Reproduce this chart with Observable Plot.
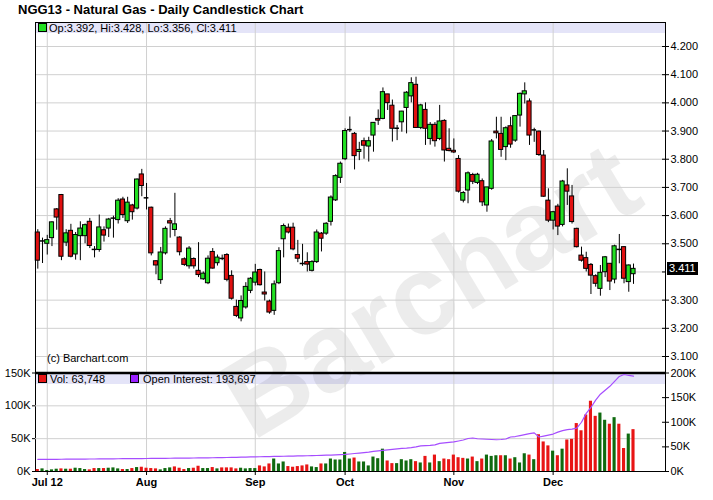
<!DOCTYPE html>
<html><head><meta charset="utf-8">
<script src="https://cdn.jsdelivr.net/npm/d3@7"></script>
<script src="https://cdn.jsdelivr.net/npm/@observablehq/plot@0.6"></script>
<style>
body{margin:0;background:#fff;}
#wrap{position:relative;width:713px;height:500px;overflow:hidden;font-family:"Liberation Sans",Arial,sans-serif;color:#000;}
#wrap svg{position:absolute;left:0;top:0;}
.abs{position:absolute;white-space:nowrap;}
.band{position:absolute;background:#e4e4f8;}
.sq{position:absolute;width:7px;height:7px;border:1px solid #000;}
.leg{position:absolute;font-size:11px;line-height:12px;}
</style></head><body>
<div id="wrap">
  <div class="abs" style="left:18px;top:2px;font-size:13px;font-weight:bold;">NGG13 - Natural Gas - Daily Candlestick Chart</div>
  <div class="band" style="left:35px;top:22px;width:630px;height:11px;"></div>
  <div class="band" style="left:35px;top:373px;width:630px;height:11px;"></div>
  <div class="abs" style="left:430px;top:290px;font-size:112px;font-weight:bold;color:rgba(0,0,0,0.075);transform:translate(-50%,-50%) rotate(-31deg);">Barchart</div>
</div>
<script>
// ---- data ----
const monthTicks = [2, 23, 46, 65, 88, 109];
const monthLabels = ["Jul 12", "Aug", "Sep", "Oct", "Nov", "Dec"];
const priceTicks = [3.1, 3.2, 3.3, 3.4, 3.5, 3.6, 3.7, 3.8, 3.9, 4.0, 4.1, 4.2];
const volTicks = [0, 50000, 100000, 150000];
const oiTicks = [0, 50000, 100000, 150000, 200000];

const open = [3.54,3.51,3.50,3.52,3.622,3.673,3.504,3.546,3.462,3.527,3.527,3.578,3.48,3.478,3.548,3.554,3.591,3.584,3.657,3.58,3.636,3.625,3.746,3.663,3.628,3.438,3.371,3.466,3.58,3.549,3.522,3.445,3.42,3.446,3.404,3.374,3.36,3.471,3.431,3.448,3.46,3.386,3.276,3.235,3.274,3.333,3.362,3.407,3.327,3.295,3.262,3.36,3.516,3.557,3.557,3.46,3.43,3.435,3.404,3.435,3.536,3.536,3.578,3.654,3.734,3.80,3.905,3.89,3.826,3.864,3.845,3.884,3.943,3.943,4.03,3.99,3.91,3.931,3.982,4.023,4.064,3.911,3.975,3.872,3.922,3.872,3.936,3.837,3.83,3.801,3.653,3.689,3.744,3.716,3.722,3.636,3.695,3.898,3.89,3.843,3.917,3.866,3.955,4.03,4.005,3.904,3.898,3.813,3.653,3.582,3.632,3.567,3.707,3.668,3.553,3.458,3.449,3.425,3.385,3.34,3.399,3.429,3.373,3.48,3.488,3.364,3.392];
const high = [3.55,3.52,3.53,3.578,3.625,3.675,3.55,3.569,3.54,3.578,3.57,3.59,3.49,3.602,3.56,3.59,3.598,3.66,3.665,3.665,3.64,3.73,3.764,3.714,3.63,3.44,3.487,3.56,3.59,3.679,3.525,3.45,3.49,3.45,3.504,3.40,3.457,3.483,3.46,3.46,3.465,3.404,3.30,3.315,3.362,3.38,3.427,3.41,3.40,3.30,3.368,3.486,3.57,3.57,3.573,3.512,3.498,3.468,3.44,3.549,3.54,3.575,3.67,3.745,3.79,3.908,3.95,3.895,3.86,3.875,3.878,3.93,3.975,4.053,4.03,4.01,3.92,3.97,4.04,4.089,4.091,3.995,4.0,3.93,3.93,3.991,3.94,3.908,3.872,3.813,3.685,3.755,3.75,3.75,3.73,3.70,3.87,3.949,3.949,3.915,3.949,3.955,4.035,4.071,4.014,3.91,3.90,3.831,3.695,3.615,3.64,3.725,3.766,3.707,3.555,3.488,3.47,3.43,3.39,3.423,3.455,3.43,3.495,3.533,3.49,3.425,3.428];
const low = [3.41,3.43,3.46,3.49,3.548,3.44,3.49,3.45,3.442,3.44,3.50,3.483,3.45,3.47,3.506,3.522,3.52,3.57,3.59,3.572,3.584,3.62,3.667,3.62,3.457,3.39,3.356,3.46,3.52,3.525,3.457,3.42,3.41,3.41,3.38,3.37,3.355,3.41,3.421,3.44,3.365,3.30,3.238,3.223,3.268,3.323,3.35,3.35,3.297,3.25,3.246,3.355,3.45,3.535,3.475,3.433,3.42,3.40,3.40,3.43,3.471,3.53,3.563,3.65,3.714,3.795,3.895,3.762,3.795,3.80,3.79,3.825,3.92,3.94,3.973,3.861,3.866,3.896,3.89,4.0,3.91,3.905,3.849,3.85,3.843,3.866,3.79,3.826,3.82,3.68,3.645,3.642,3.71,3.71,3.632,3.612,3.69,3.872,3.807,3.795,3.839,3.86,3.914,3.996,3.849,3.86,3.81,3.665,3.575,3.549,3.529,3.56,3.636,3.57,3.485,3.435,3.40,3.32,3.346,3.314,3.38,3.334,3.358,3.429,3.358,3.328,3.356];
const close = [3.44,3.51,3.513,3.576,3.593,3.454,3.537,3.454,3.531,3.554,3.566,3.492,3.48,3.558,3.529,3.586,3.591,3.653,3.602,3.646,3.612,3.728,3.705,3.663,3.466,3.423,3.469,3.553,3.572,3.569,3.47,3.425,3.483,3.42,3.389,3.394,3.447,3.412,3.451,3.448,3.372,3.305,3.244,3.297,3.347,3.376,3.398,3.353,3.32,3.256,3.356,3.474,3.563,3.54,3.48,3.447,3.43,3.426,3.435,3.54,3.518,3.571,3.664,3.74,3.784,3.90,3.905,3.811,3.833,3.848,3.864,3.929,3.937,4.038,3.999,3.908,3.91,3.969,4.036,4.07,3.911,3.991,3.908,3.922,3.864,3.934,3.831,3.829,3.824,3.685,3.68,3.75,3.72,3.745,3.647,3.70,3.863,3.892,3.833,3.91,3.852,3.953,4.032,4.041,3.884,3.904,3.815,3.667,3.582,3.612,3.561,3.721,3.685,3.577,3.488,3.44,3.411,3.387,3.358,3.397,3.452,3.366,3.491,3.48,3.376,3.423,3.411];
const volume = [3000,4000,1500,2500,3500,4000,3500,3500,5000,4500,3000,2500,4500,4500,4500,5000,5500,4000,3000,3000,4500,6000,6500,5000,4500,4000,2500,4500,5500,7000,5000,3000,4500,5000,8000,4500,4500,6000,4000,5500,5500,5500,4000,5000,4000,4500,4500,8500,7000,11500,19000,11500,14500,7500,6500,7500,8500,10000,7000,6000,11500,11500,19000,17500,17500,29000,19000,20500,14500,14500,8500,22000,19500,34000,16000,12000,12000,18000,16000,18000,15000,13000,23000,13000,25000,15000,19000,18000,25000,21000,20000,19000,22000,15000,19000,25000,23000,24000,24000,24000,19000,21000,13000,27000,25000,18000,56000,45000,39000,31000,24000,34000,48000,49000,73000,62000,86000,107000,84000,89000,78000,72000,82000,72000,35000,57000,63748];
const openInterest = [24500,24500,24600,24700,24800,24900,25000,25000,25100,25200,25300,25400,25400,25500,25600,25700,25800,25900,26000,26000,26100,26200,26300,26400,26500,26600,26700,26800,26900,27000,27100,27200,27300,27400,27500,27600,27700,27900,28000,28200,28400,28600,28800,29000,29200,29500,29800,30000,30200,30400,30600,30800,31000,31200,31400,31600,31800,32000,32200,32500,32800,33100,33400,33800,34200,34700,35500,36500,37500,38500,39500,41000,42000,43000,44000,45000,46000,47000,47500,48500,50000,52000,52500,53000,54000,57000,58000,59000,60000,62000,64000,67000,68000,66500,66000,65500,65000,64500,65000,66000,70000,71000,73000,75000,77000,78500,70000,72000,74000,76000,80000,83000,85000,86000,88000,100000,118000,130000,145000,157000,165000,173000,183000,193000,197000,195000,193697];

// ---- build table ----
const rows = close.map((c, i) => ({
  i, o: open[i], h: high[i], l: low[i], c,
  v: volume[i], oi: openInterest[i],
  up: i === 0 ? false : c >= close[i - 1]
}));
const last = rows[rows.length - 1];

const GREEN = "#22e022", RED = "#e01010", VGREEN = "#0f6a0f", VRED = "#e81515", GRID = "#d0d0d0";
const font = {fontFamily: "'Liberation Sans', Arial, sans-serif", fontSize: "11px", background: "transparent", overflow: "visible"};
const xScale = {type: "linear", domain: [0, 126], range: [37.3, 633], label: null};
const common = {width: 713, height: 500, marginLeft: 35, marginRight: 48, marginTop: 22, marginBottom: 29, style: font};

const price = Plot.plot({
  ...common,
  x: xScale,
  y: {domain: [3.1, 4.2], range: [356, 46], label: null},
  marks: [
    Plot.ruleY(priceTicks, {stroke: GRID}),
    Plot.ruleX(monthTicks, {stroke: GRID}),
    Plot.ruleX(rows, {x: "i", y1: "l", y2: "h", stroke: "#000", strokeWidth: 1}),
    Plot.rect(rows.filter(d => d.c !== d.o), {
      x1: d => d.i - 0.44, x2: d => d.i + 0.44, y1: "o", y2: "c",
      fill: d => d.c > d.o ? GREEN : RED, stroke: "#000", strokeWidth: 1
    }),
    Plot.ruleY(rows.filter(d => d.c === d.o), {y: "c", x1: d => d.i - 0.5, x2: d => d.i + 0.5, stroke: "#000", strokeWidth: 1.5}),
    Plot.axisY(priceTicks.filter(t => Math.abs(t - last.c) > 0.05), {anchor: "right", label: null, tickSize: 3, tickPadding: 2, tickFormat: d3.format(".3f"), fontSize: 11}),
    Plot.axisY(priceTicks, {anchor: "right", label: null, tickSize: -4, tickFormat: () => ""}),
    Plot.axisX(monthTicks, {anchor: "bottom", label: null, tickSize: 4, tickPadding: 3, tickFormat: (d, k) => monthLabels[k], fontWeight: "bold", fontSize: 11}),
    Plot.frame({anchor: "left"}),
    Plot.frame({anchor: "right"}),
    Plot.frame({anchor: "top"}),
    Plot.frame({anchor: "bottom"})
  ]
});

const vol = Plot.plot({
  ...common,
  x: {...xScale, axis: null},
  y: {domain: [0, 150000], range: [471, 372.5], label: null},
  marks: [
    Plot.ruleY([50000, 100000], {stroke: GRID}),
    Plot.rect(rows, {x1: d => d.i - 0.33, x2: d => d.i + 0.33, y1: 0, y2: "v", fill: d => d.up ? VGREEN : VRED}),
    Plot.ruleY([150000], {stroke: "#000", strokeWidth: 2.5}),
    Plot.axisY(volTicks, {anchor: "left", label: null, tickSize: 3, tickPadding: 2, tickFormat: d => d / 1000 + "K", fontSize: 11})
  ]
});

const oi = Plot.plot({
  ...common,
  x: {...xScale, axis: null},
  y: {domain: [0, 200000], range: [471, 372.5], label: null},
  marks: [
    Plot.line(rows, {x: "i", y: "oi", stroke: "#a64dff", strokeWidth: 1.2}),
    Plot.axisY(oiTicks, {anchor: "right", label: null, tickSize: 3, tickPadding: 2, tickFormat: d => d / 1000 + "K", fontSize: 11}),
    Plot.axisY(oiTicks.slice(1, 4), {anchor: "right", label: null, tickSize: -4, tickFormat: () => ""})
  ]
});

const wrap = document.getElementById("wrap");
wrap.append(price, vol, oi);

// legends & labels
const fmt = d3.format(",");
function add(html) { wrap.insertAdjacentHTML("beforeend", html); }
add(`<div class="sq" style="left:38px;top:23px;background:${GREEN};"></div>`);
add(`<div class="leg" style="left:49px;top:22px;">Op:${last.o.toFixed(3)}, Hi:${last.h.toFixed(3)}, Lo:${last.l.toFixed(3)}, Cl:${last.c.toFixed(3)}</div>`);
add(`<div class="sq" style="left:38px;top:374px;background:${VRED};"></div>`);
add(`<div class="leg" style="left:50px;top:373px;">Vol: ${fmt(last.v)}</div>`);
add(`<div class="sq" style="left:130px;top:374px;background:#9a1fff;"></div>`);
add(`<div class="leg" style="left:143px;top:373px;">Open Interest: ${fmt(last.oi)}</div>`);
add(`<div class="leg" style="left:47px;top:352px;">(c) Barchart.com</div>`);
const yLast = price.scale("y").apply(last.c);
add(`<div class="abs" style="left:667px;top:${yLast - 6.5}px;height:13px;line-height:13px;padding:0 2px;background:#000;color:#fff;font-size:11px;">${last.c.toFixed(3)}</div>`);
</script>
</body></html>
